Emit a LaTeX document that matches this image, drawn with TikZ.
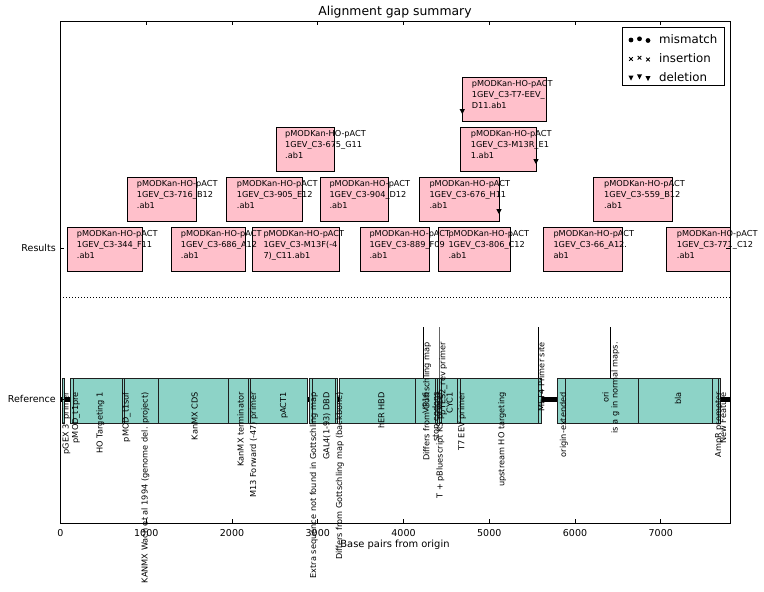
\documentclass[tikz,border=0pt]{standalone}
\usepackage{fontspec}
\setmainfont{DejaVu Sans}
\definecolor{feat}{HTML}{8DD3C7}
\definecolor{res}{HTML}{FFC0CB}
\newcommand\rbox[4]{\draw[resrect] (#1,#2) rectangle (#3,#4);}
\newcommand\rtext[5]{%
  \node[restext] (#1a) at (#2,#3+9) {pMODKan-HO-pACT};
  \node[restext] (#1b) at (#2,#3+20) {#4};
  \node[restext] (#1c) at (#2,#3+31) {#5};}
\newcommand\featb[2]{\draw[featbox] (#1,378) rectangle (#2,423);}
\newcommand\flab[4]{\node[flabel] (#1) at (#2,#3) {#4};}
\newcommand\delm[2]{\fill (#1-2.6,#2-2.5) -- (#1+2.6,#2-2.5) -- (#1,#2+2.5) -- cycle;}
\begin{document}
\begin{tikzpicture}[x=1pt,y=-1pt,
  featbox/.style={fill=feat, draw=black!88, line width=0.9pt},
  resrect/.style={fill=res, draw=black, line width=0.9pt},
  restext/.style={anchor=base west, inner sep=0pt, font=\fontsize{8.2}{10}\selectfont},
  flabel/.style={rotate=90, anchor=mid east, inner sep=0pt, font=\fontsize{8.2}{10}\selectfont},
  gapline/.style={line width=5pt, black},
  upline/.style={line width=1.2pt, black},
  ticklab/.style={font=\fontsize{9.5}{11}\selectfont, inner sep=0pt},
  legtext/.style={anchor=west, inner sep=0pt, font=\fontsize{11.8}{13}\selectfont},
]
\useasboundingbox (0,0) rectangle (764,592);

% title
\node[font=\fontsize{12.4}{14}\selectfont, inner sep=0pt] (title) at (395,12) {Alignment gap summary};

% ---------- result boxes ----------
\rbox{67}{227}{142}{271.5}
\rbox{171.7}{227}{245.7}{271.5}
\rbox{252.7}{227}{339}{271.5}
\rbox{360.7}{227}{429.3}{271.5}
\rbox{438.3}{227}{510.7}{271.5}
\rbox{543.3}{227}{622.7}{271.5}
\draw[resrect] (730,227) -- (666,227) -- (666,271.5) -- (730,271.5);
\rbox{127.3}{177}{196.7}{221.7}
\rbox{226}{177}{302.7}{221.7}
\rbox{320}{177}{388.3}{221.7}
\rbox{419}{177}{499.3}{221.7}
\rbox{593.3}{177}{672.7}{221.7}
\rbox{276.7}{127}{334}{171.7}
\rbox{460.7}{127}{536}{171.7}
\rbox{462.3}{77}{546.7}{121.7}

\rtext{ra1}{76.7}{227}{1GEV\_C3-344\_F11}{.ab1}
\rtext{ra2}{180.7}{227}{1GEV\_C3-686\_A12}{.ab1}
\rtext{ra3}{263.3}{227}{1GEV\_C3-M13F(-4}{7)\_C11.ab1}
\rtext{ra4}{369.3}{227}{1GEV\_C3-889\_F09}{.ab1}
\rtext{ra5}{448.3}{227}{1GEV\_C3-806\_C12}{.ab1}
\rtext{ra6}{553.3}{227}{1GEV\_C3-66\_A12.}{ab1}
\rtext{ra7}{676.7}{227}{1GEV\_C3-771\_C12}{.ab1}
\rtext{rb1}{136.7}{177}{1GEV\_C3-716\_B12}{.ab1}
\rtext{rb2}{236.7}{177}{1GEV\_C3-905\_E12}{.ab1}
\rtext{rb3}{329.3}{177}{1GEV\_C3-904\_D12}{.ab1}
\rtext{rb4}{429.3}{177}{1GEV\_C3-676\_H11}{.ab1}
\rtext{rb5}{604}{177}{1GEV\_C3-559\_B12}{.ab1}
\rtext{rc1}{285}{127}{1GEV\_C3-675\_G11}{.ab1}
\rtext{rc2}{470.7}{127}{1GEV\_C3-M13R\_E1}{1.ab1}
\rtext{rd1}{471.7}{77}{1GEV\_C3-T7-EEV\_}{D11.ab1}

% deletion marks
\delm{499}{211.7}
\delm{536}{161.7}
\delm{462.3}{111.7}

% separator
\draw[dash pattern=on 1pt off 2pt, line width=0.8pt] (60,297) -- (730,297);

% ---------- reference track ----------
\draw[gapline] (60,399) -- (73,399);
\draw[gapline] (307,399) -- (312,399);
\draw[gapline] (335,399) -- (340.5,399);
\draw[gapline] (541.7,399) -- (557.3,399);
\draw[gapline] (720.7,399) -- (730,399);

\featb{62}{64.5}
\featb{70.5}{73}
\featb{73}{122}
\featb{122}{124.5}
\featb{124.5}{158.3}
\featb{158.3}{228.3}
\featb{228.3}{248.3}
\featb{248.3}{250.7}
\featb{250.7}{307.3}
\featb{309.3}{312}
\featb{312}{336}
\featb{335}{337.3}
\featb{339.3}{415}
\featb{415}{435}
\featb{435}{437.3}
\featb{437.3}{439.5}
\featb{439.5}{441.7}
\featb{441.7}{457.3}
\featb{457.3}{460}
\featb{460}{538.3}
\featb{538.3}{541.7}
\featb{557.3}{565}
\featb{565}{638.3}
\featb{638.3}{712.7}
\featb{712.7}{718}
\featb{718}{720.7}

\draw[upline] (423.3,327) -- (423.3,378);
\draw[upline, black!60] (439.3,327) -- (439.3,378);
\draw[upline] (538.3,327) -- (538.3,378);
\draw[upline] (610.7,327) -- (610.7,378);

\flab{f1}{66}{392}{pGEX 3\textquotesingle\ primer}
\flab{f2}{75.5}{392}{pMOD\_t1pre}
\flab{f3}{100}{392}{HO Targeting 1}
\flab{f4}{126}{392}{pMOD\_t1suf}
\flab{f5}{145}{392}{KANMX Wach et al 1994 (genome del. project)}
\flab{f6}{195}{392}{KanMX CDS}
\flab{f7}{241}{392}{KanMX terminator}
\flab{f8}{253.3}{392}{M13 Forward (-47) primer}
\flab{f9}{283.3}{392}{pACT1}
\flab{f10}{313.3}{392}{Extra sequence not found in Gottschling map}
\flab{f11}{326.7}{392}{GAL4(1-93) DBD}
\flab{f12}{339.3}{392}{Differs from Gottschling map (backbone)}
\flab{f13}{381.7}{392}{hER HBD}
\flab{f14}{426.7}{342}{Differs from Gottschling map}
\flab{f15}{426}{392}{VP16}
\flab{f16}{436}{392}{stop codons}
\flab{f17}{440}{392}{T + pBluescript KS primer}
\flab{f18}{442.7}{342}{pYES2\_rev primer}
\flab{f19}{450}{392}{CYC1}
\flab{f20}{461.7}{392}{T7 EEV primer}
\flab{f21}{501.7}{392}{upstream HO targeting}
\flab{f22}{541.7}{342}{MET4 Primer site}
\flab{f23}{563.3}{392}{origin-extended}
\flab{f24}{606}{392}{ori}
\flab{f25}{615}{342}{is a g in normal maps.}
\flab{f26}{678.3}{392}{bla}
\flab{f27}{718.3}{392}{AmpR promoter}
\flab{f28}{723.3}{392}{New Feature}

% ---------- axes frame ----------
\draw[line width=1pt] (60,21) rectangle (730,523);
\foreach \t/\lab in {0/0,1000/1000,2000/2000,3000/3000,4000/4000,5000/5000,6000/6000,7000/7000}{
  \pgfmathsetmacro\px{60.5+0.08575*\t}
  \draw[line width=0.6pt] (\px,523) -- (\px,519);
  \draw[line width=0.6pt] (\px,21) -- (\px,25);
  \node[ticklab] (xt\t) at (\px,533) {\lab};
}
\foreach \yy in {248,399}{
  \draw[line width=0.6pt] (60,\yy) -- (64,\yy);
  \draw[line width=0.6pt] (730,\yy) -- (726,\yy);
}
\node[ticklab, anchor=east] (ylres) at (56,248) {Results};
\node[ticklab, anchor=east] (ylref) at (56,399) {Reference};
\node[font=\fontsize{9.9}{12}\selectfont, inner sep=0pt] (xlabel) at (395,545) {Base pairs from origin};

% ---------- legend ----------
\draw[fill=white, line width=0.8pt] (622,27) rectangle (724,85);
\fill (631,40) circle (2.4);
\fill (639.5,38.8) circle (2.4);
\fill (648,40.5) circle (2.4);
\node[legtext] (lg1) at (659,39) {mismatch};
\foreach \cx/\cy in {631/59,639.5/57.8,648/59.5}{
  \draw[line width=0.8pt] (\cx-1.8,\cy-1.8) -- (\cx+1.8,\cy+1.8) (\cx-1.8,\cy+1.8) -- (\cx+1.8,\cy-1.8);
}
\node[legtext] (lg2) at (659,58) {insertion};
\delm{631}{78}
\delm{639.5}{76.8}
\delm{648}{78.5}
\node[legtext] (lg3) at (659,77) {deletion};
\end{tikzpicture}
\end{document}
